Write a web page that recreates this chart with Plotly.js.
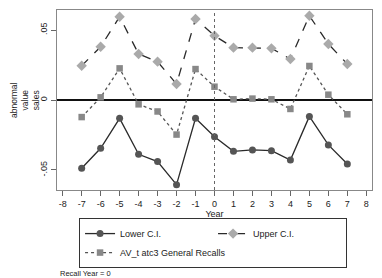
<!DOCTYPE html>
<html>
<head>
<meta charset="utf-8">
<script src="https://cdn.plot.ly/plotly-3.0.1.min.js"></script>
<style>html,body{margin:0;padding:0;background:#fff;}#chart{width:382px;height:278px;}</style>
</head>
<body>
<div id="chart"></div>
<script>
const years = [-7,-6,-5,-4,-3,-2,-1,0,1,2,3,4,5,6,7];
const lowerCI = [-0.0488,-0.0345,-0.0131,-0.0388,-0.0440,-0.0605,-0.0131,-0.0262,-0.0367,-0.0357,-0.0362,-0.0429,-0.0117,-0.0321,-0.0457];
const upperCI = [0.0245,0.0380,0.0595,0.0329,0.0274,0.0114,0.0579,0.0459,0.0374,0.0374,0.0369,0.0293,0.0602,0.0400,0.0257];
const avRecalls = [-0.0122,0.0019,0.0226,-0.0031,-0.0082,-0.0247,0.0221,0.0095,0.0005,0.0010,0.0005,-0.0064,0.0243,0.0038,-0.0102];
const xTicks = [-8,-7,-6,-5,-4,-3,-2,-1,0,1,2,3,4,5,6,7,8];
const xTickText = ['-8','-7','-6','-5','-4','-3','-2','-1','0','1','2','3','4','5','6','7','8'];
const yTickVals = [-0.05,0,0.05];
const yTickText = ['-.05','0','.05'];
const recallYear = 0;

const font = {family:'Liberation Sans, Arial, sans-serif', size:9, color:'#222'};

const traces = [
  {x:years, y:lowerCI, name:'Lower C.I.', type:'scatter', mode:'lines+markers',
   line:{color:'#2a2a2a', width:1.3, dash:'solid'},
   marker:{symbol:'circle', size:7, color:'#555'}},
  {x:years, y:upperCI, name:'Upper C.I.', type:'scatter', mode:'lines+markers',
   line:{color:'#2a2a2a', width:1.3, dash:'dash'},
   marker:{symbol:'diamond', size:8, color:'#aaa'}},
  {x:years, y:avRecalls, name:'AV_t atc3 General Recalls', type:'scatter', mode:'lines+markers',
   line:{color:'#555', width:1.3, dash:'dot'},
   marker:{symbol:'square', size:6.5, color:'#888'}}
];

const layout = {
  width:382, height:278,
  margin:{l:57, r:10, t:10, b:88},
  paper_bgcolor:'#fff', plot_bgcolor:'#fff',
  font:font,
  showlegend:true,
  xaxis:{range:[-8.3,8.3], tickvals:xTicks, ticktext:xTickText, ticks:'outside', ticklen:5, tickcolor:'#666',
    showgrid:false, zeroline:false, showline:true, linecolor:'#888', mirror:true, linewidth:1,
    tickfont:{size:9}, title:{text:'Year', font:{size:9}, standoff:2}},
  yaxis:{range:[-0.0643,0.0643], tickvals:yTickVals, ticktext:yTickText, tickangle:-90,
    ticks:'outside', ticklen:5, tickcolor:'#666', showgrid:false,
    zeroline:true, zerolinecolor:'#111', zerolinewidth:1.2,
    showline:true, linecolor:'#888', mirror:true, linewidth:1,
    tickfont:{size:9}},
  legend:{orientation:'h', x:0.07, xanchor:'left', y:-0.156, yanchor:'top',
    bordercolor:'#333333', borderwidth:1, bgcolor:'rgba(255,255,255,1)',
    entrywidth:88, entrywidthmode:'pixels',
    font:{size:9}, traceorder:'normal'},
  shapes:[{type:'line', xref:'x', yref:'paper', x0:recallYear, x1:recallYear, y0:0, y1:1,
    line:{color:'#666', width:1, dash:'dot'}}],
  annotations:[
    {text:'Recall Year = 0', xref:'paper', yref:'paper', x:0.003, y:-0.462,
     xanchor:'left', yanchor:'middle', showarrow:false, font:{size:7.5, color:'#222'}},
    {text:'abnormal<br>value<br>sales', xref:'paper', yref:'paper', x:-0.1016, y:0.5,
     xanchor:'center', yanchor:'middle', textangle:-90, showarrow:false, font:{size:8.5, color:'#222'}}
  ]
};

Plotly.newPlot('chart', traces, layout, {staticPlot:true, displayModeBar:false});
</script>
</body>
</html>
